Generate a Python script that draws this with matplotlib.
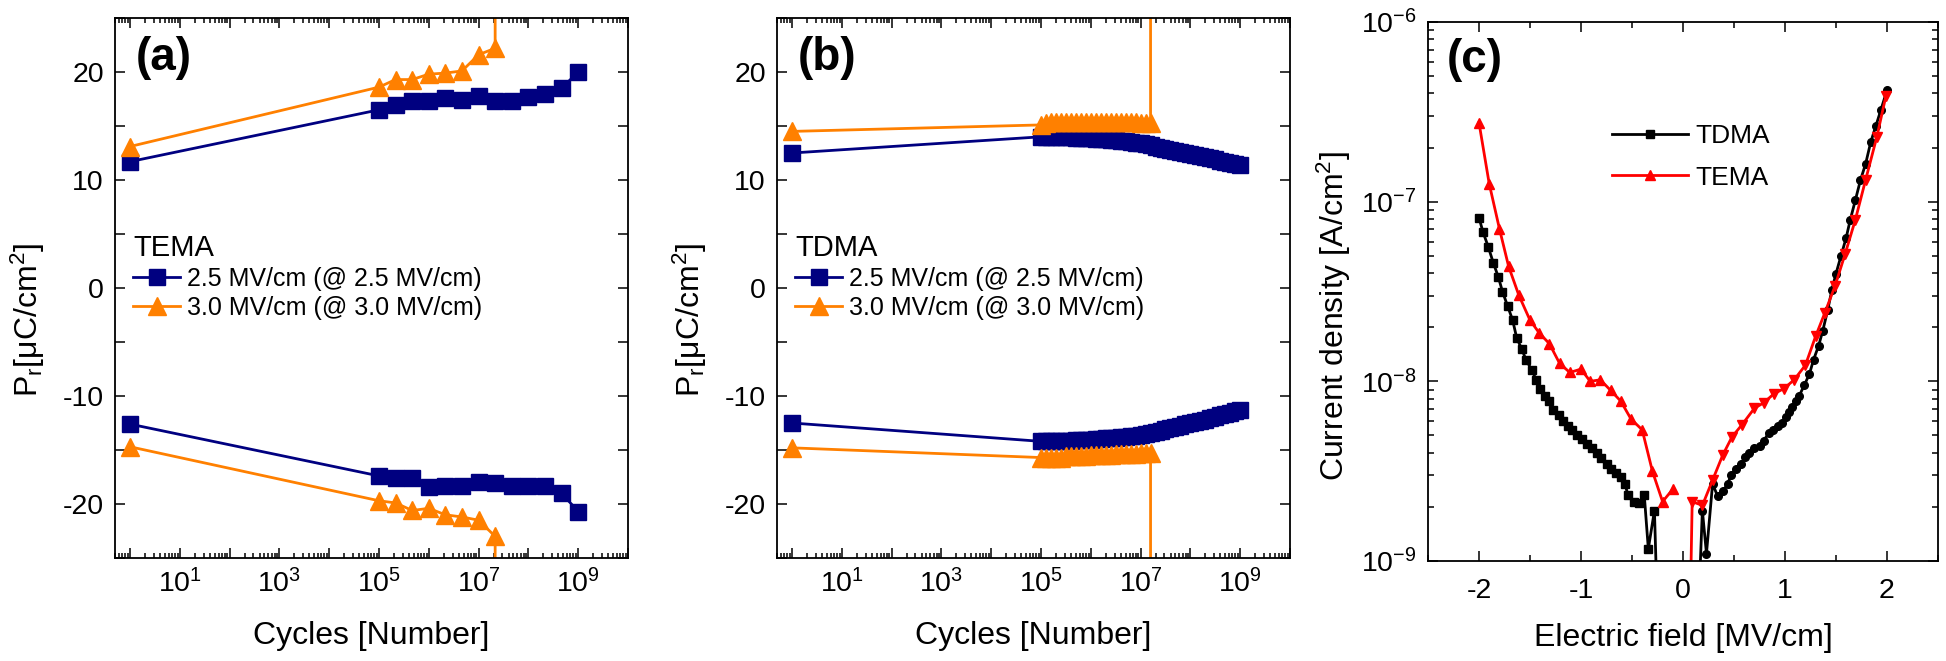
import numpy as np
import matplotlib
matplotlib.use('Agg')
import matplotlib.pyplot as plt
from matplotlib.ticker import LogLocator, NullFormatter, FuncFormatter, MultipleLocator

plt.rcParams['font.family'] = ['Liberation Sans', 'DejaVu Sans']
plt.rcParams['mathtext.fontset'] = 'custom'
plt.rcParams['mathtext.rm'] = 'Liberation Sans'
plt.rcParams['mathtext.it'] = 'Liberation Sans:italic'
plt.rcParams['mathtext.bf'] = 'Liberation Sans:bold'
plt.rcParams['mathtext.default'] = 'regular'
plt.rcParams['axes.unicode_minus'] = False
plt.rcParams['axes.linewidth'] = 1.3

NAVY = '#000080'
ORANGE = '#FF8000'

# ---- (a) TEMA endurance ----
cyc_a = [1, 1e5, 2.15e5, 4.64e5, 1e6, 2.15e6, 4.64e6, 1e7, 2.15e7, 4.64e7, 1e8, 2.15e8, 4.64e8, 1e9]
a_25_pos = [11.7, 16.5, 16.9, 17.3, 17.3, 17.6, 17.4, 17.8, 17.3, 17.3, 17.7, 18.0, 18.5, 20.0]
a_25_neg = [-12.6, -17.4, -17.6, -17.6, -18.4, -18.3, -18.3, -18.0, -18.1, -18.3, -18.3, -18.3, -19.0, -20.7]
# 3.0 MV/cm breaks down after the last cycle (last value off scale)
cyc_a30 = [1, 1e5, 2.15e5, 4.64e5, 1e6, 2.15e6, 4.64e6, 1e7, 2.15e7, 2.15e7]
a_30_pos = [13.1, 18.6, 19.3, 19.3, 19.8, 19.9, 20.1, 21.6, 22.2, 60]
a_30_neg = [-14.7, -19.7, -19.9, -20.6, -20.4, -21.0, -21.2, -21.5, -23.0, -60]

# ---- (b) TDMA endurance ----
exp_b25 = [5.0, 5.1, 5.2, 5.3, 5.4, 5.5, 5.6, 5.7, 5.8, 5.9, 6.0, 6.1, 6.2, 6.3, 6.4, 6.5,
           6.6, 6.7, 6.8, 6.9, 7.0, 7.1, 7.2, 7.3, 7.4, 7.5, 7.6, 7.7, 7.8, 7.9, 8.0, 8.1,
           8.2, 8.3, 8.4, 8.5, 8.6, 8.7, 8.8, 8.9, 9.0]
b_25_first = [12.5, -12.5]
b_25_pos = [14.0, 14.0, 14.0, 14.0, 14.0, 14.0, 14.0, 13.9, 13.9, 13.9, 13.9, 13.8, 13.8, 13.8,
            13.7, 13.7, 13.6, 13.6, 13.5, 13.4, 13.4, 13.3, 13.2, 13.1, 13.0, 12.9, 12.8, 12.7,
            12.6, 12.5, 12.4, 12.3, 12.2, 12.1, 12.0, 11.9, 11.8, 11.7, 11.6, 11.5, 11.4]
b_25_neg = [-14.2, -14.2, -14.2, -14.2, -14.2, -14.2, -14.2, -14.1, -14.1, -14.1, -14.1, -14.0,
            -14.0, -13.9, -13.9, -13.9, -13.8, -13.8, -13.7, -13.7, -13.6, -13.5, -13.4, -13.3,
            -13.2, -13.1, -13.0, -12.9, -12.8, -12.6, -12.5, -12.4, -12.3, -12.2, -12.0, -11.9,
            -11.8, -11.7, -11.6, -11.4, -11.3]
exp_b30 = [5.0, 5.1, 5.2, 5.3, 5.4, 5.5, 5.6, 5.7, 5.8, 5.9, 6.0, 6.1, 6.2, 6.3, 6.4, 6.5,
           6.6, 6.7, 6.8, 6.9, 7.0, 7.1, 7.2, 7.2]
b_30_first = [14.5, -14.8]
b_30_pos = [15.1, 15.3, 15.4, 15.4, 15.4, 15.4, 15.4, 15.4, 15.4, 15.4, 15.4, 15.4, 15.4, 15.4,
            15.4, 15.4, 15.4, 15.4, 15.4, 15.4, 15.3, 15.3, 15.3, 60]
b_30_neg = [-15.7, -15.7, -15.7, -15.7, -15.7, -15.6, -15.6, -15.6, -15.6, -15.6, -15.5, -15.5,
            -15.5, -15.5, -15.5, -15.4, -15.4, -15.4, -15.4, -15.4, -15.3, -15.3, -15.3, -60]

# ---- (c) leakage current ----
E_tdma_neg = [-2.00, -1.96, -1.91, -1.86, -1.81, -1.77, -1.72, -1.67, -1.63, -1.58, -1.54, -1.48,
              -1.44, -1.40, -1.35, -1.31, -1.27, -1.22, -1.18, -1.13, -1.09, -1.04, -0.99, -0.94,
              -0.89, -0.84, -0.80, -0.75, -0.71, -0.66, -0.61, -0.57, -0.54, -0.48, -0.43, -0.38,
              -0.34, -0.28, -0.25]
J_tdma_neg = [8.13e-8, 6.76e-8, 5.62e-8, 4.57e-8, 3.80e-8, 3.16e-8, 2.63e-8, 2.19e-8, 1.74e-8,
              1.51e-8, 1.32e-8, 1.15e-8, 1.02e-8, 9.12e-9, 8.32e-9, 7.76e-9, 6.92e-9, 6.46e-9,
              6.03e-9, 5.62e-9, 5.37e-9, 5.01e-9, 4.79e-9, 4.47e-9, 4.27e-9, 3.98e-9, 3.72e-9,
              3.47e-9, 3.24e-9, 3.09e-9, 2.95e-9, 2.69e-9, 2.34e-9, 2.14e-9, 2.09e-9, 2.34e-9,
              1.17e-9, 1.91e-9, 5e-10]
E_tdma_pos = [0.15, 0.19, 0.23, 0.29, 0.34, 0.39, 0.44, 0.47, 0.52, 0.57, 0.61, 0.65, 0.70, 0.75,
              0.79, 0.84, 0.88, 0.93, 0.97, 1.01, 1.04, 1.07, 1.11, 1.14, 1.19, 1.24, 1.28, 1.33,
              1.37, 1.42, 1.46, 1.50, 1.55, 1.60, 1.64, 1.69, 1.74, 1.79, 1.84, 1.89, 1.94, 2.00]
J_tdma_pos = [5e-10, 1.91e-9, 1.10e-9, 2.69e-9, 2.29e-9, 2.45e-9, 2.69e-9, 3.02e-9, 3.24e-9,
              3.47e-9, 3.80e-9, 3.98e-9, 4.27e-9, 4.37e-9, 4.68e-9, 5.13e-9, 5.37e-9, 5.62e-9,
              5.89e-9, 6.31e-9, 6.76e-9, 7.24e-9, 7.76e-9, 8.32e-9, 9.55e-9, 1.10e-8, 1.32e-8,
              1.58e-8, 1.91e-8, 2.51e-8, 3.24e-8, 3.98e-8, 5.01e-8, 6.31e-8, 7.94e-8, 1.02e-7,
              1.32e-7, 1.62e-7, 2.14e-7, 2.63e-7, 3.24e-7, 4.17e-7]
E_tema_neg = [-2.00, -1.90, -1.80, -1.71, -1.61, -1.50, -1.41, -1.31, -1.21, -1.11, -1.00, -0.91,
              -0.81, -0.71, -0.61, -0.51, -0.40, -0.30, -0.20, -0.10]
J_tema_neg = [2.75e-7, 1.26e-7, 7.08e-8, 4.37e-8, 3.02e-8, 2.19e-8, 1.86e-8, 1.62e-8, 1.26e-8,
              1.12e-8, 1.17e-8, 1.00e-8, 1.02e-8, 8.91e-9, 7.76e-9, 6.17e-9, 5.37e-9, 3.16e-9,
              2.14e-9, 2.51e-9]
E_tema_pos = [0.07, 0.09, 0.19, 0.29, 0.39, 0.48, 0.58, 0.70, 0.79, 0.89, 0.99, 1.09, 1.20, 1.30,
              1.39, 1.49, 1.59, 1.69, 1.79, 1.90, 1.99]
J_tema_pos = [5e-10, 2.14e-9, 2.04e-9, 2.82e-9, 3.89e-9, 4.90e-9, 5.75e-9, 7.08e-9, 7.59e-9,
              8.51e-9, 9.12e-9, 1.02e-8, 1.23e-8, 1.78e-8, 2.40e-8, 3.39e-8, 5.13e-8, 7.94e-8,
              1.32e-7, 2.29e-7, 3.89e-7]

TICK_FS = 20.5
LABEL_FS = 23
W, H = 1946, 661


def box(l, r, t, b):
    return [l / W, (H - b) / H, (r - l) / W, (b - t) / H]


def odd_decades(v, pos):
    e = int(round(np.log10(v)))
    return r'$10^{%d}$' % e if e % 2 == 1 else ''


def tens_only(v, pos):
    return '%d' % v if abs(v) % 10 == 0 else ''


def style_cycles(ax, letter, title, h25, h30):
    ax.set_xscale('log')
    ax.set_xlim(0.5, 1e10)
    ax.set_ylim(-25, 25)
    ax.xaxis.set_major_locator(LogLocator(base=10, numticks=20))
    ax.xaxis.set_minor_locator(LogLocator(base=10, subs=np.arange(2, 10), numticks=20))
    ax.xaxis.set_major_formatter(FuncFormatter(odd_decades))
    ax.xaxis.set_minor_formatter(NullFormatter())
    ax.yaxis.set_major_locator(MultipleLocator(5))
    ax.yaxis.set_major_formatter(FuncFormatter(tens_only))
    ax.tick_params(which='both', direction='in', top=True, right=True, labelsize=TICK_FS, width=1.1)
    ax.tick_params(which='major', length=7, pad=8)
    ax.tick_params(which='minor', length=3.5)
    ax.set_xlabel('Cycles [Number]', fontsize=LABEL_FS, labelpad=16)
    ax.set_ylabel(r'P$_r$[μC/cm$^2$]', fontsize=LABEL_FS)
    ax.yaxis.set_label_coords(-0.133, 0.44)
    ax.text(0.04, 0.925, letter, transform=ax.transAxes, fontsize=33, fontweight='bold',
            ha='left', va='center')
    leg = ax.legend([h25, h30], ['2.5 MV/cm (@ 2.5 MV/cm)', '3.0 MV/cm (@ 3.0 MV/cm)'],
                    title=title, loc='upper left', bbox_to_anchor=(0.035, 0.60),
                    frameon=False, fontsize=18, title_fontsize=21, handlelength=1.9,
                    handletextpad=0.25, labelspacing=0.2, borderpad=0, borderaxespad=0,
                    alignment='left')
    return leg


fig = plt.figure(figsize=(19.46, 6.61), dpi=100)

# (a)
ax1 = fig.add_axes(box(115, 628, 18, 558))
h25, = ax1.plot(cyc_a, a_25_pos, color=NAVY, lw=2, marker='s', ms=11, mec=NAVY)
ax1.plot(cyc_a, a_25_neg, color=NAVY, lw=2, marker='s', ms=11, mec=NAVY)
h30, = ax1.plot(cyc_a30, a_30_pos, color=ORANGE, lw=2, marker='^', ms=13, mec=ORANGE)
ax1.plot(cyc_a30, a_30_neg, color=ORANGE, lw=2, marker='^', ms=13, mec=ORANGE)
style_cycles(ax1, '(a)', 'TEMA', h25, h30)

# (b)
ax2 = fig.add_axes(box(777, 1290, 18, 558))
cyc_b25 = [1] + list(10 ** np.array(exp_b25))
cyc_b30 = [1] + list(10 ** np.array(exp_b30))
g25, = ax2.plot(cyc_b25, [b_25_first[0]] + b_25_pos, color=NAVY, lw=2, marker='s', ms=11, mec=NAVY)
ax2.plot(cyc_b25, [b_25_first[1]] + b_25_neg, color=NAVY, lw=2, marker='s', ms=11, mec=NAVY)
g30, = ax2.plot(cyc_b30, [b_30_first[0]] + b_30_pos, color=ORANGE, lw=2, marker='^', ms=13, mec=ORANGE)
ax2.plot(cyc_b30, [b_30_first[1]] + b_30_neg, color=ORANGE, lw=2, marker='^', ms=13, mec=ORANGE)
style_cycles(ax2, '(b)', 'TDMA', g25, g30)

# (c)
ax3 = fig.add_axes(box(1428, 1938, 22, 561))
k1, = ax3.plot(E_tdma_neg, J_tdma_neg, color='black', lw=2, marker='s', ms=5.5)
ax3.plot(E_tdma_pos, J_tdma_pos, color='black', lw=2, marker='o', ms=5.5)
k2, = ax3.plot(E_tema_neg, J_tema_neg, color='#FF0000', lw=2, marker='^', ms=7)
ax3.plot(E_tema_pos, J_tema_pos, color='#FF0000', lw=2, marker='v', ms=7)
ax3.set_yscale('log')
ax3.set_xlim(-2.5, 2.5)
ax3.set_ylim(1e-9, 1e-6)
ax3.xaxis.set_major_locator(MultipleLocator(1))
ax3.xaxis.set_minor_locator(MultipleLocator(0.5))
ax3.yaxis.set_major_locator(LogLocator(base=10, numticks=10))
ax3.yaxis.set_minor_locator(LogLocator(base=10, subs=np.arange(2, 10), numticks=10))
ax3.yaxis.set_major_formatter(FuncFormatter(lambda v, p: r'$10^{%d}$' % int(round(np.log10(v)))))
ax3.yaxis.set_minor_formatter(NullFormatter())
ax3.tick_params(which='both', direction='in', top=True, right=True, labelsize=TICK_FS, width=1.1)
ax3.tick_params(which='major', length=7, pad=8)
ax3.tick_params(which='minor', length=4)
ax3.tick_params(axis='x', which='major', pad=12)
ax3.set_xlabel('Electric field [MV/cm]', fontsize=LABEL_FS, labelpad=14)
ax3.set_ylabel(r'Current density [A/cm$^2$]', fontsize=LABEL_FS)
ax3.yaxis.set_label_coords(-0.148, 0.455)
ax3.text(0.037, 0.93, '(c)', transform=ax3.transAxes, fontsize=33, fontweight='bold',
         ha='left', va='center')
ax3.legend([k1, k2], ['TDMA', 'TEMA'], loc='upper left', bbox_to_anchor=(0.36, 0.81),
           frameon=False, fontsize=19, handlelength=2.9, handletextpad=0.27,
           labelspacing=0.65, borderpad=0, borderaxespad=0)

fig.savefig('out.png', dpi=100)
